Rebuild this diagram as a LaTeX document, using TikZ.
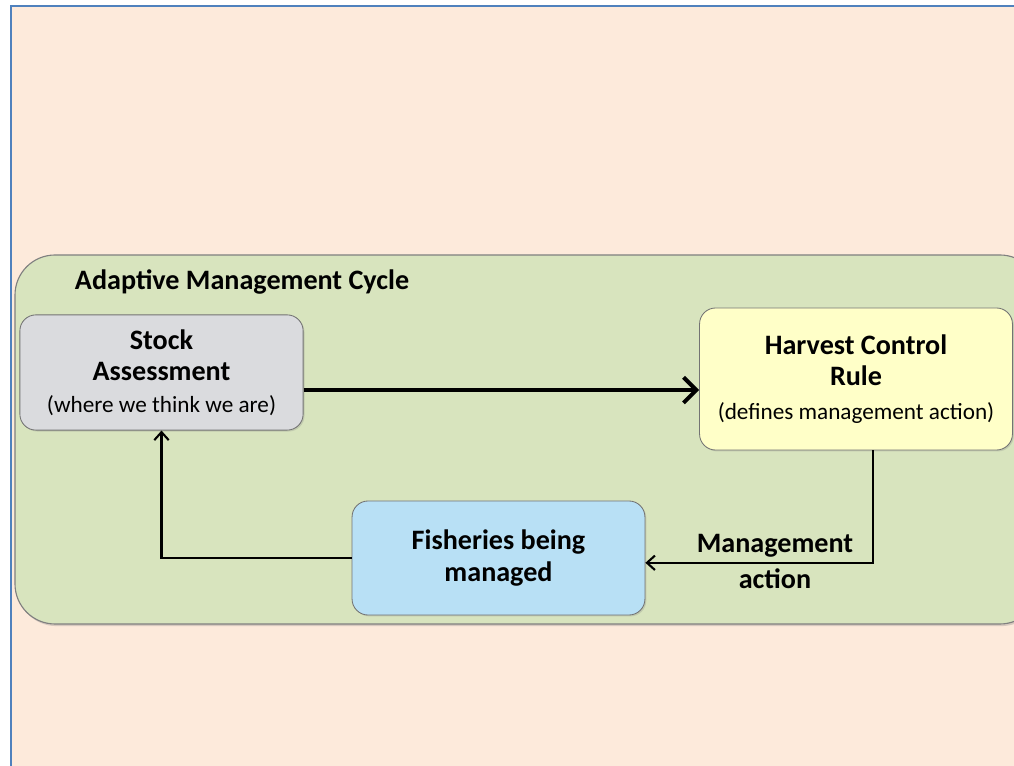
\documentclass[tikz,border=0pt]{standalone}
\usepackage{fontspec}
\setmainfont{Carlito}
\usetikzlibrary{arrows.meta,shadows}
\definecolor{peach}{RGB}{253,234,219}
\definecolor{frameblue}{RGB}{79,129,189}
\definecolor{panelgreen}{RGB}{216,228,190}
\definecolor{stockgray}{RGB}{218,219,222}
\definecolor{rulyellow}{RGB}{255,255,200}
\definecolor{fishblue}{RGB}{184,224,245}
\newcommand\headfont{\fontsize{20}{21}\selectfont\bfseries}
\newcommand\subfont{\fontsize{16.5}{18}\selectfont\mdseries}
\begin{document}
\begin{tikzpicture}[x=0.025cm,y=-0.025cm,
  box/.style={draw=black!55,line width=0.6pt,rounded corners=0.4cm,align=center,
    font=\headfont,inner sep=0pt,
    drop shadow={opacity=0.25,shadow xshift=1pt,shadow yshift=-1pt}},
  bigarrow/.style={line width=2.8pt,-{Straight Barb[length=3.2mm,width=6.4mm,line width=2.8pt]}},
  thinarrow/.style={line width=1.5pt,-{Straight Barb[length=2mm,width=3.6mm,line width=1.5pt]}}]
\useasboundingbox (0,0) rectangle (1014,766);
\fill[white](0,0)rectangle(1014,766);
\fill[peach](11,6)rectangle(1014,766);
\draw[frameblue,line width=1.4pt](11,766)--(11,6)--(1014,6);
% cycle panel
\begin{scope}
\clip(0,0)rectangle(1014,766);
\draw[fill=panelgreen,draw=black!50,line width=0.8pt,rounded corners=1cm,
  drop shadow={opacity=0.3,shadow xshift=1pt,shadow yshift=-1.5pt}](15,255)rectangle(1040,624);
\end{scope}
\node[anchor=west,font=\headfont](title)at(70,282){Adaptive Management Cycle};
\node[box,fill=stockgray,minimum width=7.08cm,minimum height=2.88cm](stock)at(161.5,372.5)
  {Stock\\[1pt]Assessment\\[2pt]{\subfont(where we think we are)}};
\node[box,fill=rulyellow,minimum width=7.82cm,minimum height=3.55cm](harvest)at(856,379)
  {Harvest Control\\[1pt]Rule\\[3pt]{\subfont(defines management action)}};
\node[box,fill=fishblue,minimum width=7.32cm,minimum height=2.85cm](fisheries)at(498.5,558)
  {Fisheries being\\[2pt]managed};
\draw[bigarrow]([yshift=-0.44cm]stock.east)--([yshift=-0.44cm]stock.east-|harvest.west);
\draw[thinarrow]([xshift=0.42cm]harvest.south)|-([yshift=-0.12cm]fisheries.east)
  node[pos=0.715,above=0pt,font=\headfont]{Management}
  node[pos=0.715,below=0pt,font=\headfont]{action};
\draw[thinarrow](fisheries.west)-|(stock.south);
\end{tikzpicture}
\end{document}
